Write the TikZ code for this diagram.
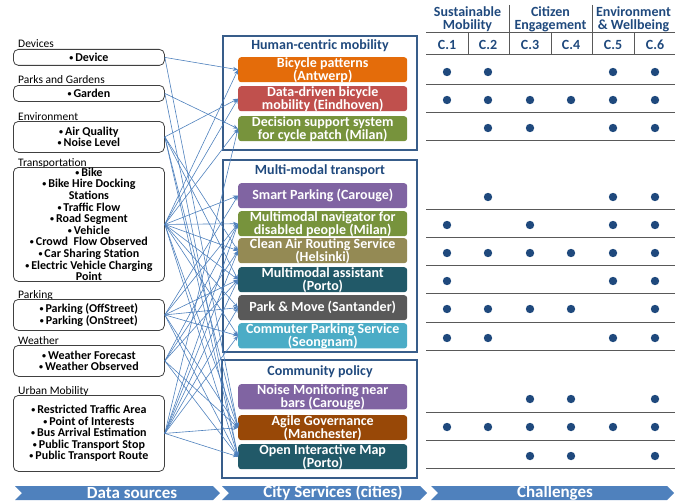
\documentclass[tikz,border=0pt]{standalone}
\usepackage{fontspec}
\setmainfont{Carlito}
\usetikzlibrary{arrows.meta}
\definecolor{hdrblue}{HTML}{1F497D}
\definecolor{grpblue}{HTML}{385D8A}
\definecolor{linkblue}{HTML}{4F81BD}
\definecolor{barblue}{HTML}{4F81BD}
\definecolor{cOrange}{HTML}{E46C0A}
\definecolor{cRed}{HTML}{C0504D}
\definecolor{cGreen}{HTML}{77933C}
\definecolor{cPurple}{HTML}{8064A2}
\definecolor{cKhaki}{HTML}{948A54}
\definecolor{cTeal}{HTML}{215968}
\definecolor{cGray}{HTML}{595959}
\definecolor{cCyan}{HTML}{4BACC6}
\definecolor{cBrown}{HTML}{984807}
\definecolor{gridline}{HTML}{595959}
\newcommand{\mybul}{{\fontsize{8}{8}\selectfont\raisebox{1pt}{•}}\,}
\begin{document}
\begin{tikzpicture}[x=1pt,y=-1pt,
  srcbox/.style={draw=black!75, line width=0.8pt, rounded corners=5pt, minimum width=151pt, inner sep=0pt, anchor=north west, align=center, font=\bfseries\fontsize{12}{11.6}\selectfont},
  srctitle/.style={anchor=base west, inner sep=0pt, font=\fontsize{11.5}{12}\selectfont},
  svc/.style={rounded corners=3pt, minimum width=169pt, minimum height=25pt, inner sep=0pt, anchor=north west, align=center, text=white, font=\bfseries\fontsize{14}{13}\selectfont},
  grp/.style={draw=grpblue, line width=1.3pt},
  grptitle/.style={text=hdrblue, inner sep=0pt, font=\bfseries\fontsize{14}{14}\selectfont},
  hdr/.style={text=hdrblue, inner sep=0pt, align=center, font=\bfseries\fontsize{14}{13}\selectfont},
  link/.style={draw=linkblue, line width=0.6pt, -{Stealth[length=5pt,width=4pt]}},
  gline/.style={draw=gridline, line width=1pt},
  dot/.style={fill=hdrblue},
  chev/.style={fill=barblue},
  chevtext/.style={text=white, inner sep=0pt, font=\bfseries\fontsize{17}{17}\selectfont}
]
\useasboundingbox (0,0) rectangle (685,503);

% ---------- data sources ----------
\node[srctitle] (tdev) at (18,48) {Devices};
\node[srcbox, minimum height=16pt] (dev) at (13,49) {\mybul Device};
\node[srctitle] (tgar) at (18,84) {Parks and Gardens};
\node[srcbox, minimum height=16pt] (gar) at (13,85) {\mybul Garden};
\node[srctitle] (tenv) at (18,120) {Environment};
\node[srcbox, minimum height=31pt] (env) at (13,121) {\mybul Air Quality\\\mybul Noise Level};
\node[srctitle] (ttra) at (18,166) {Transportation};
\node[srcbox, minimum height=114pt] (tra) at (13,167) {\mybul Bike\\\mybul Bike Hire Docking\\Stations\\\mybul Traffic Flow\\\mybul Road Segment\\\mybul Vehicle\\\mybul Crowd\ \ Flow Observed\\\mybul Car Sharing Station\\\mybul Electric Vehicle Charging\\Point};
\node[srctitle] (tpar) at (18,298) {Parking};
\node[srcbox, minimum height=31pt] (par) at (13,299) {\mybul Parking (OffStreet)\\\mybul Parking (OnStreet)};
\node[srctitle] (twea) at (18,344) {Weather};
\node[srcbox, minimum height=31pt] (wea) at (13,345) {\mybul Weather Forecast\\\mybul Weather Observed};
\node[srctitle] (turb) at (18,394) {Urban Mobility};
\node[srcbox, minimum height=76pt] (urb) at (13,395) {\mybul Restricted Traffic Area\\\mybul Point of Interests\\\mybul Bus Arrival Estimation\\\mybul Public Transport Stop\\\mybul Public Transport Route};

% ---------- groups ----------
\draw[grp] (223,36) rectangle (417,150);
\node[grptitle] (g1) at (320,46) {Human-centric mobility};
\draw[grp] (223,160) rectangle (417,352);
\node[grptitle] (g2) at (320,171) {Multi-modal transport};
\draw[grp] (222,360) rectangle (417,478);
\node[grptitle] (g3) at (320,372) {Community policy};

% ---------- services ----------
\node[svc, fill=cOrange] (bic) at (238,57) {Bicycle patterns\\(Antwerp)};
\node[svc, fill=cRed] (dat) at (238,86) {Data-driven bicycle\\mobility (Eindhoven)};
\node[svc, fill=cGreen] (dec) at (238,116) {Decision support system\\for cycle patch (Milan)};
\node[svc, fill=cPurple] (sma) at (238,183) {Smart Parking (Carouge)};
\node[svc, fill=cGreen] (nav) at (238,211) {Multimodal navigator for\\disabled people (Milan)};
\node[svc, fill=cKhaki] (cle) at (238,238) {Clean Air Routing Service\\(Helsinki)};
\node[svc, fill=cTeal] (ass) at (238,267) {Multimodal assistant\\(Porto)};
\node[svc, fill=cGray] (pam) at (238,295) {Park \& Move (Santander)};
\node[svc, fill=cCyan] (com) at (238,323) {Commuter Parking Service\\(Seongnam)};
\node[svc, fill=cPurple] (noi) at (238,384) {Noise Monitoring near\\bars (Carouge)};
\node[svc, fill=cBrown] (agi) at (238,415) {Agile Governance\\(Manchester)};
\node[svc, fill=cTeal] (ope) at (238,444) {Open Interactive Map\\(Porto)};

% ---------- connectors ----------
\foreach \s/\t in {dev/bic, dev/agi,
  gar/dec, gar/ope,
  env/dat, env/cle, env/ass, env/agi, env/ope,
  tra/bic, tra/dat, tra/dec, tra/sma, tra/nav, tra/cle, tra/ass, tra/pam, tra/com, tra/agi, tra/ope,
  par/sma, par/nav, par/ass, par/pam, par/com, par/agi, par/ope,
  wea/cle, wea/nav, wea/ass, wea/agi, wea/ope,
  urb/dec, urb/nav, urb/cle, urb/ass, urb/pam, urb/com, urb/agi, urb/ope}
  {\path[link] (\s.east) -- (\t.west);}

% ---------- challenge header ----------
\node[hdr] (h1) at (467.5,19) {Sustainable\\Mobility};
\node[hdr] (h2) at (550.5,19) {Citizen\\Engagement};
\node[hdr] (h3) at (633.5,19) {Environment\\\& Wellbeing};
\draw[gline] (509,5) -- (509,33);
\draw[gline] (592,5) -- (592,33);
\draw[gline] (426,33) -- (675,33);
\foreach \x/\l in {447/1, 488/2, 530/3, 571/4, 613/5, 655/6}
  \node[hdr, font=\bfseries\fontsize{14}{14}\selectfont] (c\l) at (\x,45) {C.\l};
\foreach \x in {468,509,551,592,634} \draw[gline] (\x,33) -- (\x,55);
\draw[gline] (426,55) -- (675,55);
\foreach \yy in {84,112,140,209,237,265,293,322,350,412,440,468}
  \draw[gline] (426,\yy) -- (675,\yy);

% ---------- dots ----------
\foreach \yy/\cols in {72/{447,488,613,655},
  100/{447,488,530,571,613,655},
  128/{488,530,613,655},
  197/{488,613,655},
  225/{447,530,613,655},
  253/{447,488,530,571,613,655},
  281/{447,613,655},
  309/{447,488,530,571,655},
  338/{447,488,613,655},
  399/{530,571,655},
  427/{447,488,530,571,613,655},
  456/{530,571,655}}
  {\foreach \x in \cols \fill[dot] (\x,\yy) circle (4.2);}

% ---------- bottom bar ----------
\fill[chev] (15,486) -- (213,486) -- (220,493) -- (213,500) -- (15,500) -- (22,493) -- cycle;
\node[chevtext] (b1) at (132,493) {Data sources};
\fill[chev] (222,486) -- (420,486) -- (427,493) -- (420,500) -- (222,500) -- (229,493) -- cycle;
\node[chevtext] (b2) at (333,493) {City Services (cities)};
\fill[chev] (431,486) -- (667,486) -- (674,493) -- (667,500) -- (431,500) -- (438,493) -- cycle;
\node[chevtext] (b3) at (555,493) {Challenges};
\end{tikzpicture}
\end{document}
